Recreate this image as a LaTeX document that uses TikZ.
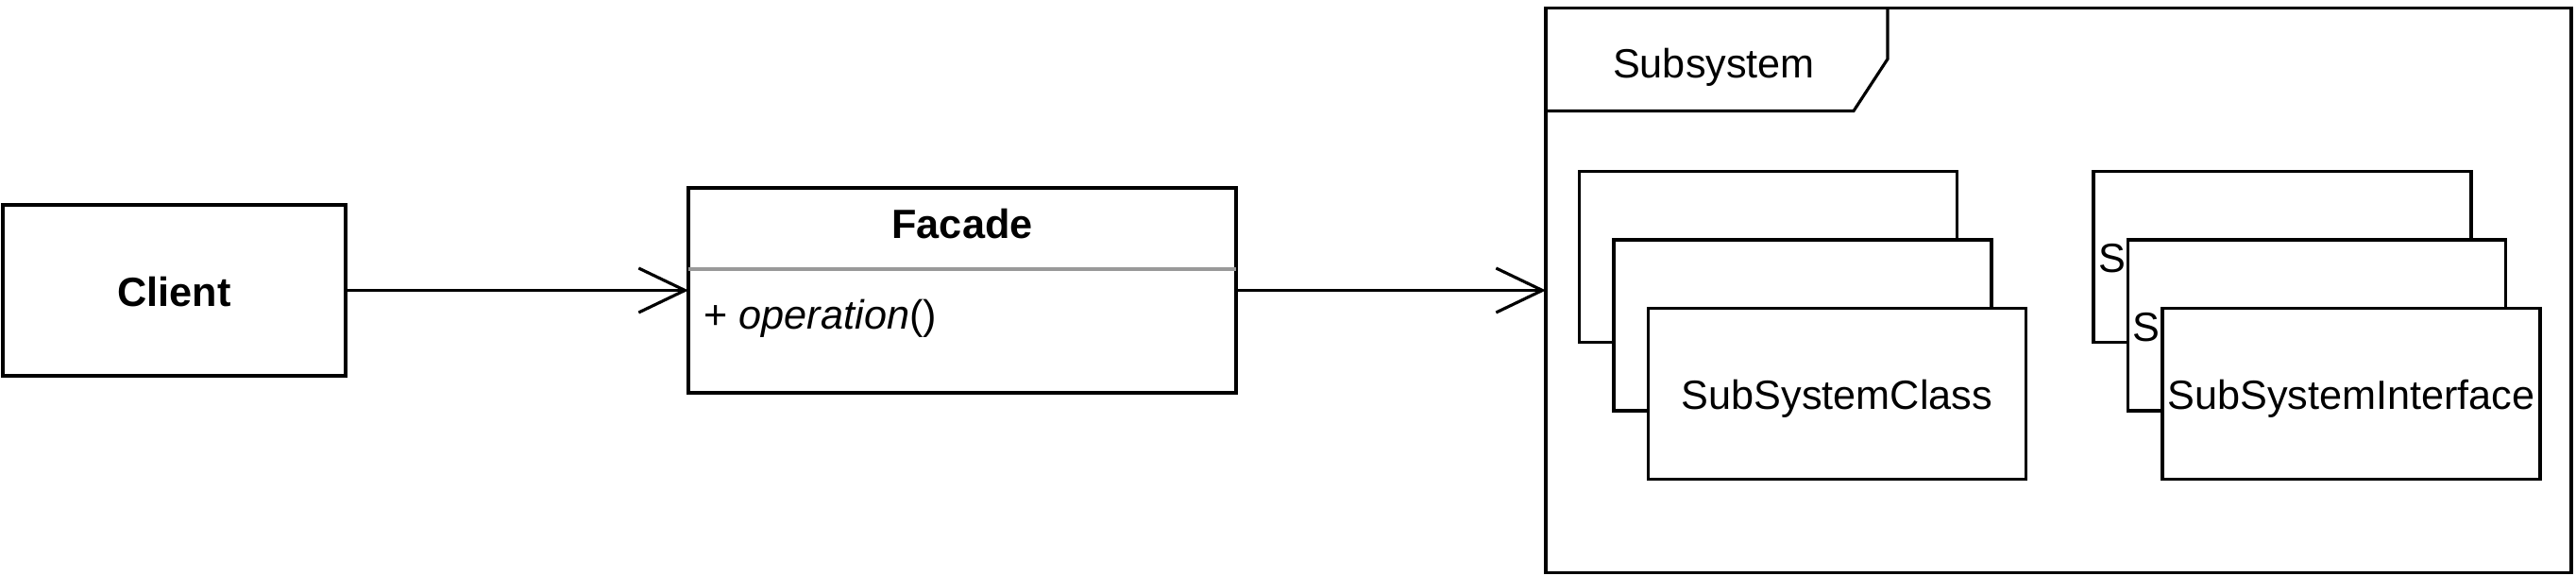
\documentclass[tikz,border=0pt]{standalone}
\usepackage{fontspec}
\setmainfont{Liberation Sans}
\usetikzlibrary{positioning, calc, arrows.meta}
\newcommand{\umlfont}{\fontsize{12.3}{14.8}\selectfont}

\begin{document}
\begin{tikzpicture}[
    line width=0.9pt,
    box/.style={draw, fill=white, minimum width=4cm, minimum height=1.81cm, inner sep=0pt, outer sep=0pt, text height=9.6pt, text depth=0pt, font=\umlfont},
    cls/.style={box},
    client/.style={box, minimum width=3.63cm, font=\umlfont\bfseries},
    facadebox/.style={box, minimum width=5.8cm, minimum height=2.17cm},
    pkg/.style={draw, minimum width=10.86cm, minimum height=5.98cm, inner sep=0pt, outer sep=0pt},
    sep/.style={draw=black!40},
    txt/.style={inner sep=0pt, text height=9.6pt, text depth=0pt, font=\umlfont},
    arr/.style={-{Straight Barb[length=4.9mm, width=4.7mm]}}
]
\useasboundingbox (0,0) rectangle (27.28,-6.10);

% Client and Facade
\node[client] (client) at (1.845,-3.075) {Client};
\node[facadebox, right=3.63cm of client] (facade) {};
\node[txt, font=\umlfont\bfseries] (facadename) at ($(facade.north)+(0,-0.365)$) {Facade};
\draw[sep] ($(facade.north west)+(0,-0.86)$) -- ($(facade.north east)+(0,-0.86)$);
\node[txt, anchor=west] (operation) at ($(facade.north west)+(0.15,-1.325)$) {+ \textit{operation}()};

% Subsystem package
\node[pkg, right=3.28cm of facade] (subsystem) {};
\draw ($(subsystem.north west)+(3.62,0)$) -- ++(0,-0.54) -- ++(-0.36,-0.55) -- ($(subsystem.north west)+(0,-1.09)$);
\node[txt] (subsystemname) at ($(subsystem.north west)+(1.78,-0.575)$) {Subsystem};

% Subsystem classes
\node[cls] (classback) at ($(subsystem.north west)+(2.355,-2.635)$) {SubSystemClass};
\node[cls] (classmid) at ($(classback)+(0.365,-0.725)$) {SubSystemClass};
\node[cls] (classfront) at ($(classmid)+(0.365,-0.725)$) {SubSystemClass};

% Subsystem interfaces
\node[cls] (ifaceback) at ($(classback)+(5.445,0)$) {SubSystemInterface};
\node[cls] (ifacemid) at ($(ifaceback)+(0.365,-0.725)$) {SubSystemInterface};
\node[cls] (ifacefront) at ($(ifacemid)+(0.365,-0.725)$) {SubSystemInterface};

% Connections
\draw[arr] (client) -- (facade);
\draw[arr] (facade) -- (subsystem);

\end{tikzpicture}
\end{document}
